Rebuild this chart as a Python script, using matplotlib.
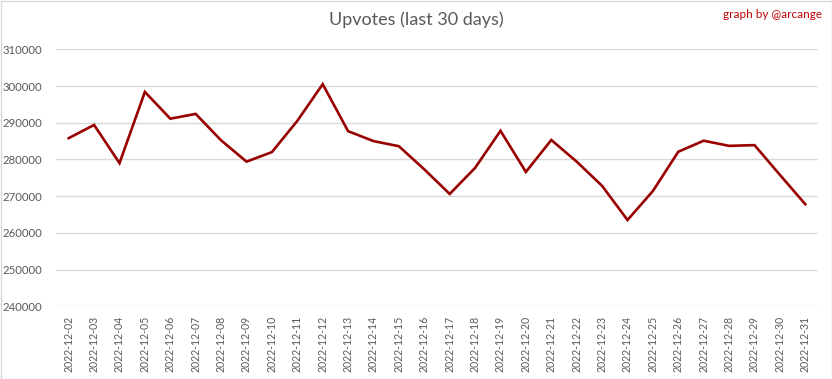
import matplotlib
matplotlib.use("Agg")
import matplotlib.pyplot as plt
from matplotlib.patches import Rectangle

plt.rcParams['font.family'] = ['Lato', 'DejaVu Sans']

dates = [f'2022-12-{d:02d}' for d in range(2, 32)]
upvotes = [
    285800, 289400, 279000, 298400, 291100, 292400, 285200, 279400, 282000, 290500,
    300500, 287700, 285000, 283600, 277300, 270600, 277700, 287800, 276600, 285300,
    279400, 272800, 263500, 271400, 282100, 285100, 283700, 283900, 275800, 267800,
]
yticks = list(range(240000, 310001, 10000))

fig = plt.figure(figsize=(8.32, 3.79), dpi=100)
ax = fig.add_axes([56 / 832, 1 - 306.3 / 379, (818 - 56) / 832, (306.3 - 49.3) / 379])

ax.plot(range(len(dates)), upvotes, color='#990000', linewidth=1.9, solid_joinstyle='miter')

ax.set_xlim(-0.5, len(dates) - 0.5)
ax.set_ylim(240000, 310000)
ax.set_yticks(yticks)
ax.set_yticklabels([str(v) for v in yticks])
ax.set_xticks(range(len(dates)))
ax.set_xticklabels(dates, rotation=90)
ax.tick_params(axis='both', length=0, colors='#595959')
ax.tick_params(axis='y', labelsize=8.2, pad=10)
ax.tick_params(axis='x', labelsize=7.6, pad=7)
ax.grid(axis='y', color='#d9d9d9', linewidth=1)
ax.set_axisbelow(True)
for s in ax.spines.values():
    s.set_visible(False)

fig.text(0.5, 1 - 20 / 379, 'Upvotes (last 30 days)', ha='center', va='center',
         fontsize=13, color='#595959')
fig.text(822 / 832, 1 - 14 / 379, 'graph by @arcange', ha='right', va='center',
         fontsize=8.5, color='#c00000')

# light frame around the whole chart
fig.patches.append(Rectangle((0.5 / 832, 0.5 / 379), 1 - 1 / 832, 1 - 1 / 379,
                             transform=fig.transFigure, fill=False,
                             edgecolor='#d9d9d9', linewidth=1))

fig.savefig('out.png', dpi=100)
